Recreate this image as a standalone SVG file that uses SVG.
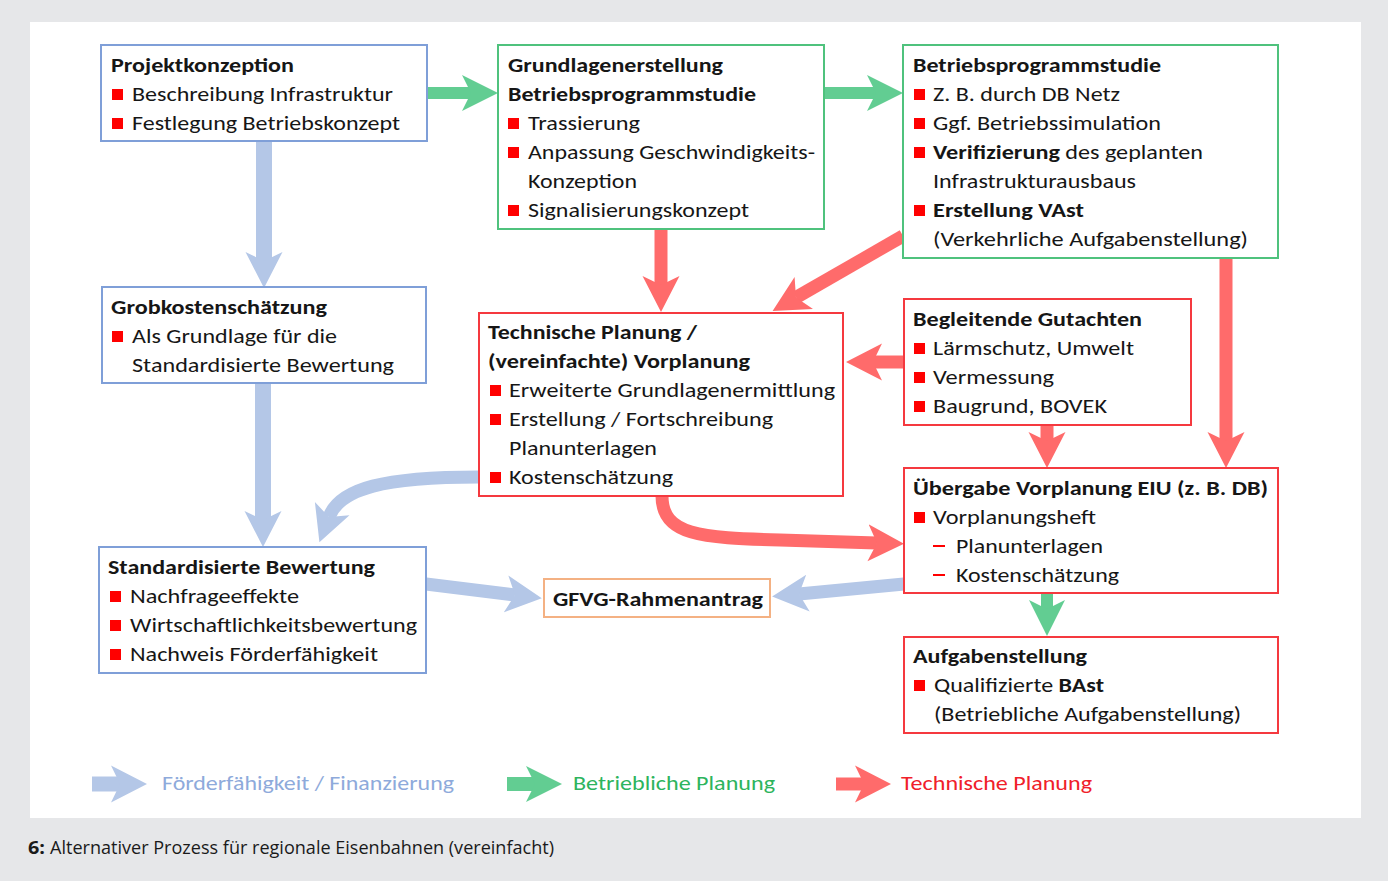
<svg xmlns="http://www.w3.org/2000/svg" width="1388" height="881" viewBox="0 0 1388 881">
<defs>
<style>
.t{font-family:Carlito,Lato,"Liberation Sans",sans-serif;font-size:20px;fill:#161616}
.h{font-weight:bold}
.box{fill:#fff;stroke-width:2}
.bb{stroke:#7f9fd8}
.bg{stroke:#4fc27d}
.br{stroke:#f5393f}
.bo{stroke:#f4b183}
.bul{fill:#f00}
.dash{stroke:#f00;stroke-width:2}
.cb{fill:none;stroke:#b4c7e7}
.cg{fill:none;stroke:#62cd92}
.cr{fill:none;stroke:#ff6b6b}
.lg{font-family:Carlito,Lato,"Liberation Sans",sans-serif;font-size:20px}
.cap{font-family:"Open Sans","Liberation Sans",sans-serif;font-size:18px;fill:#1a1a1a}
</style>
<marker id="mB" markerUnits="userSpaceOnUse" markerWidth="40" markerHeight="40" viewBox="0 -20 40 40" refX="9" refY="0" orient="auto"><path d="M36,0 L0,-18.5 L9,0 L0,18.5 Z" fill="#b4c7e7"/></marker>
<marker id="mG" markerUnits="userSpaceOnUse" markerWidth="40" markerHeight="40" viewBox="0 -20 40 40" refX="9" refY="0" orient="auto"><path d="M36,0 L0,-18 L9,0 L0,18 Z" fill="#62cd92"/></marker>
<marker id="mR" markerUnits="userSpaceOnUse" markerWidth="40" markerHeight="40" viewBox="0 -20 40 40" refX="9" refY="0" orient="auto"><path d="M36,0 L0,-18.5 L9,0 L0,18.5 Z" fill="#ff6b6b"/></marker>
</defs>

<rect x="0" y="0" width="1388" height="881" fill="#e6e7e9"/>
<rect x="30" y="22" width="1331" height="796" fill="#fff"/>

<g id="connectors">
  <path class="cg" stroke-width="12" d="M427,93 L471,93" marker-end="url(#mG)"/>
  <path class="cg" stroke-width="12" d="M824,93 L876,93" marker-end="url(#mG)"/>
  <path class="cg" stroke-width="12" d="M1047,593 L1047,609" marker-end="url(#mG)"/>
  <path class="cb" stroke-width="16" d="M264,142 L264,261" marker-end="url(#mB)"/>
  <path class="cb" stroke-width="16" d="M263,384 L263,520" marker-end="url(#mB)"/>
  <path class="cb" stroke-width="13" d="M479,477 C385,477 340,488 329,517" marker-end="url(#mB)"/>
  <path class="cb" stroke-width="13" d="M426,584 L515,595" marker-end="url(#mB)"/>
  <path class="cb" stroke-width="13" d="M904,584 L799,594" marker-end="url(#mB)"/>
  <path class="cr" stroke-width="13" d="M661,229 L661,285" marker-end="url(#mR)"/>
  <path class="cr" stroke-width="13" d="M903,236 L796,297.5" marker-end="url(#mR)"/>
  <path class="cr" stroke-width="13" d="M904,362 L873,362" marker-end="url(#mR)"/>
  <path class="cr" stroke-width="13" d="M1047,425 L1047,441" marker-end="url(#mR)"/>
  <path class="cr" stroke-width="13" d="M1226,258 L1226,441" marker-end="url(#mR)"/>
  <path class="cr" stroke-width="13" d="M662,496 C662,535 700,538 780,540 L877,543" marker-end="url(#mR)"/>
</g>

<g id="projektkonzeption">
  <rect class="box bb" x="101" y="45" width="326" height="96"/>
  <text class="t h" x="111" y="72" textLength="183" lengthAdjust="spacingAndGlyphs">Projektkonzeption</text>
  <rect class="bul" x="112" y="89" width="11" height="11"/>
  <text class="t" x="132" y="101" textLength="261" lengthAdjust="spacingAndGlyphs">Beschreibung Infrastruktur</text>
  <rect class="bul" x="112" y="118" width="11" height="11"/>
  <text class="t" x="132" y="130" textLength="268" lengthAdjust="spacingAndGlyphs">Festlegung Betriebskonzept</text>
</g>

<g id="grundlagenerstellung">
  <rect class="box bg" x="498" y="45" width="326" height="184"/>
  <text class="t h" x="508" y="72" textLength="215" lengthAdjust="spacingAndGlyphs">Grundlagenerstellung</text>
  <text class="t h" x="508" y="101" textLength="248" lengthAdjust="spacingAndGlyphs">Betriebsprogrammstudie</text>
  <rect class="bul" x="508" y="118" width="11" height="11"/>
  <text class="t" x="528" y="130" textLength="112" lengthAdjust="spacingAndGlyphs">Trassierung</text>
  <rect class="bul" x="508" y="147" width="11" height="11"/>
  <text class="t" x="528" y="159" textLength="287" lengthAdjust="spacingAndGlyphs">Anpassung Geschwindigkeits-</text>
  <text class="t" x="528" y="188" textLength="109" lengthAdjust="spacingAndGlyphs">Konzeption</text>
  <rect class="bul" x="508" y="205" width="11" height="11"/>
  <text class="t" x="528" y="217" textLength="221" lengthAdjust="spacingAndGlyphs">Signalisierungskonzept</text>
</g>

<g id="betriebsprogrammstudie">
  <rect class="box bg" x="903" y="45" width="375" height="213"/>
  <text class="t h" x="913" y="72" textLength="248" lengthAdjust="spacingAndGlyphs">Betriebsprogrammstudie</text>
  <rect class="bul" x="914" y="89" width="11" height="11"/>
  <text class="t" x="933" y="101" textLength="187" lengthAdjust="spacingAndGlyphs">Z. B. durch DB Netz</text>
  <rect class="bul" x="914" y="118" width="11" height="11"/>
  <text class="t" x="933" y="130" textLength="228" lengthAdjust="spacingAndGlyphs">Ggf. Betriebssimulation</text>
  <rect class="bul" x="914" y="147" width="11" height="11"/>
  <text class="t" x="933" y="159" textLength="270" lengthAdjust="spacingAndGlyphs"><tspan class="h">Verifizierung</tspan> des geplanten</text>
  <text class="t" x="933" y="188" textLength="203" lengthAdjust="spacingAndGlyphs">Infrastrukturausbaus</text>
  <rect class="bul" x="914" y="205" width="11" height="11"/>
  <text class="t h" x="933" y="217" textLength="151" lengthAdjust="spacingAndGlyphs">Erstellung VAst</text>
  <text class="t" x="933" y="246" textLength="315" lengthAdjust="spacingAndGlyphs">(Verkehrliche Aufgabenstellung)</text>
</g>

<g id="grobkostenschaetzung">
  <rect class="box bb" x="102" y="287" width="324" height="96"/>
  <text class="t h" x="111" y="314" textLength="216" lengthAdjust="spacingAndGlyphs">Grobkostenschätzung</text>
  <rect class="bul" x="112" y="331" width="11" height="11"/>
  <text class="t" x="132" y="343" textLength="205" lengthAdjust="spacingAndGlyphs">Als Grundlage für die</text>
  <text class="t" x="132" y="372" textLength="262" lengthAdjust="spacingAndGlyphs">Standardisierte Bewertung</text>
</g>

<g id="technische-planung">
  <rect class="box br" x="479" y="313" width="364" height="183"/>
  <text class="t h" x="488" y="339" textLength="209" lengthAdjust="spacingAndGlyphs">Technische Planung /</text>
  <text class="t h" x="488" y="368" textLength="262" lengthAdjust="spacingAndGlyphs">(vereinfachte) Vorplanung</text>
  <rect class="bul" x="490" y="385" width="11" height="11"/>
  <text class="t" x="509" y="397" textLength="326" lengthAdjust="spacingAndGlyphs">Erweiterte Grundlagenermittlung</text>
  <rect class="bul" x="490" y="414" width="11" height="11"/>
  <text class="t" x="509" y="426" textLength="264" lengthAdjust="spacingAndGlyphs">Erstellung / Fortschreibung</text>
  <text class="t" x="509" y="455" textLength="148" lengthAdjust="spacingAndGlyphs">Planunterlagen</text>
  <rect class="bul" x="490" y="472" width="11" height="11"/>
  <text class="t" x="509" y="484" textLength="164" lengthAdjust="spacingAndGlyphs">Kostenschätzung</text>
</g>

<g id="begleitende-gutachten">
  <rect class="box br" x="904" y="299" width="287" height="126"/>
  <text class="t h" x="913" y="326" textLength="229" lengthAdjust="spacingAndGlyphs">Begleitende Gutachten</text>
  <rect class="bul" x="914" y="343" width="11" height="11"/>
  <text class="t" x="933" y="355" textLength="201" lengthAdjust="spacingAndGlyphs">Lärmschutz, Umwelt</text>
  <rect class="bul" x="914" y="372" width="11" height="11"/>
  <text class="t" x="933" y="384" textLength="121" lengthAdjust="spacingAndGlyphs">Vermessung</text>
  <rect class="bul" x="914" y="401" width="11" height="11"/>
  <text class="t" x="933" y="413" textLength="174" lengthAdjust="spacingAndGlyphs">Baugrund, BOVEK</text>
</g>

<g id="uebergabe-vorplanung">
  <rect class="box br" x="904" y="468" width="374" height="125"/>
  <text class="t h" x="913" y="495" textLength="355" lengthAdjust="spacingAndGlyphs">Übergabe Vorplanung EIU (z. B. DB)</text>
  <rect class="bul" x="914" y="512" width="11" height="11"/>
  <text class="t" x="933" y="524" textLength="163" lengthAdjust="spacingAndGlyphs">Vorplanungsheft</text>
  <line class="dash" x1="933" y1="546" x2="945" y2="546"/>
  <text class="t" x="956" y="553" textLength="147" lengthAdjust="spacingAndGlyphs">Planunterlagen</text>
  <line class="dash" x1="933" y1="575" x2="945" y2="575"/>
  <text class="t" x="956" y="582" textLength="163" lengthAdjust="spacingAndGlyphs">Kostenschätzung</text>
</g>

<g id="standardisierte-bewertung">
  <rect class="box bb" x="99" y="547" width="327" height="126"/>
  <text class="t h" x="108" y="574" textLength="267" lengthAdjust="spacingAndGlyphs">Standardisierte Bewertung</text>
  <rect class="bul" x="110" y="591" width="11" height="11"/>
  <text class="t" x="130" y="603" textLength="169" lengthAdjust="spacingAndGlyphs">Nachfrageeffekte</text>
  <rect class="bul" x="110" y="620" width="11" height="11"/>
  <text class="t" x="130" y="632" textLength="287" lengthAdjust="spacingAndGlyphs">Wirtschaftlichkeitsbewertung</text>
  <rect class="bul" x="110" y="649" width="11" height="11"/>
  <text class="t" x="130" y="661" textLength="248" lengthAdjust="spacingAndGlyphs">Nachweis Förderfähigkeit</text>
</g>

<g id="gfvg-rahmenantrag">
  <rect class="box bo" x="544" y="579" width="226" height="38"/>
  <text class="t h" x="553" y="606" textLength="210" lengthAdjust="spacingAndGlyphs">GFVG-Rahmenantrag</text>
</g>

<g id="aufgabenstellung">
  <rect class="box br" x="904" y="637" width="374" height="96"/>
  <text class="t h" x="913" y="663" textLength="174" lengthAdjust="spacingAndGlyphs">Aufgabenstellung</text>
  <rect class="bul" x="914" y="680" width="11" height="11"/>
  <text class="t" x="934" y="692" textLength="170" lengthAdjust="spacingAndGlyphs">Qualifizierte <tspan class="h">BAst</tspan></text>
  <text class="t" x="934" y="721" textLength="307" lengthAdjust="spacingAndGlyphs">(Betriebliche Aufgabenstellung)</text>
</g>

<g id="legend">
  <path class="cb" stroke-width="15" d="M92,784 L120,784" marker-end="url(#mB)"/>
  <text class="lg" x="162" y="790" fill="#8eaadb" textLength="292" lengthAdjust="spacingAndGlyphs">Förderfähigkeit / Finanzierung</text>
  <path class="cg" stroke-width="14" d="M507,784 L535,784" marker-end="url(#mG)"/>
  <text class="lg" x="573" y="790" fill="#2db45d" textLength="202" lengthAdjust="spacingAndGlyphs">Betriebliche Planung</text>
  <path class="cr" stroke-width="13" d="M836,784 L864,784" marker-end="url(#mR)"/>
  <text class="lg" x="901" y="790" fill="#f0202a" textLength="191" lengthAdjust="spacingAndGlyphs">Technische Planung</text>
</g>

<g id="caption">
  <text class="cap" x="28" y="854" font-weight="bold" textLength="17" lengthAdjust="spacingAndGlyphs">6:</text>
  <text class="cap" x="50" y="854" textLength="504" lengthAdjust="spacingAndGlyphs">Alternativer Prozess für regionale Eisenbahnen (vereinfacht)</text>
</g>
</svg>
